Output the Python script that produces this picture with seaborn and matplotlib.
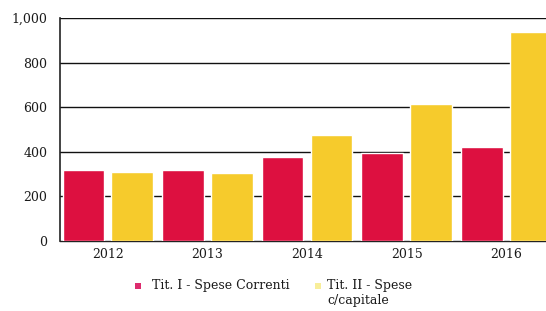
import matplotlib
matplotlib.use("Agg")
import matplotlib.pyplot as plt
import seaborn as sns
import pandas as pd
from matplotlib.patches import Rectangle

years = ["2012", "2013", "2014", "2015", "2016"]
spese_correnti = [318, 318, 378, 393, 422]
spese_capitale = [309, 305, 476, 614, 937]
series_names = ["Tit. I - Spese Correnti", "Tit. II - Spese\nc/capitale"]
y_ticks = [0, 200, 400, 600, 800, 1000]
y_tick_labels = ["0", "200", "400", "600", "800", "1,000"]

colors = ["#DD1040", "#F6CB2C"]
legend_colors = ["#DD2C6E", "#F8EE9A"]

df = pd.DataFrame({
    "anno": years * 2,
    "valore": spese_correnti + spese_capitale,
    "serie": [series_names[0]] * len(years) + [series_names[1]] * len(years),
})

sns.set_theme(style="white")
plt.rcParams["font.family"] = ["DejaVu Serif", "DejaVu Sans"]

W, H = 546, 311
fig = plt.figure(figsize=(W / 100, H / 100), dpi=100)
ax = fig.add_axes([60 / W, 1 - 241 / H, 496 / W, 223 / H])

sns.barplot(data=df, x="anno", y="valore", hue="serie", palette=colors,
            width=0.98, gap=0.15, ax=ax, legend=False, zorder=3,
            saturation=1)

ax.set_ylim(0, 1000)
ax.set_xlim(-0.48, 4.5)
ax.set_yticks(y_ticks)
ax.set_yticklabels(y_tick_labels)
for y in y_ticks[1:]:
    ax.axhline(y, color="#111111", lw=1.0, zorder=1)
ax.set_xlabel("")
ax.set_ylabel("")
for s in ["right", "top"]:
    ax.spines[s].set_visible(False)
ax.spines["left"].set_color("#222222")
ax.spines["left"].set_linewidth(1.2)
ax.spines["bottom"].set_color("#222222")
ax.spines["bottom"].set_linewidth(1.0)
ax.tick_params(axis="y", labelsize=9, colors="#1a1a1a", length=0, pad=9)
ax.tick_params(axis="x", labelsize=9, colors="#1a1a1a", length=0, pad=5)

# legend (manual, to match the top-aligned layout of the original)
entries = [(135, 152), (315, 327)]
for (mx, tx), name, c in zip(entries, series_names, legend_colors):
    fig.patches.append(Rectangle((mx / W, 1 - 289 / H), 6 / W, 6 / H,
                                 transform=fig.transFigure, facecolor=c,
                                 edgecolor="none"))
    fig.text(tx / W, 1 - 279 / H, name, ha="left", va="top", fontsize=9,
             color="#1a1a1a", linespacing=1.2)

fig.savefig("out.png", dpi=100)
